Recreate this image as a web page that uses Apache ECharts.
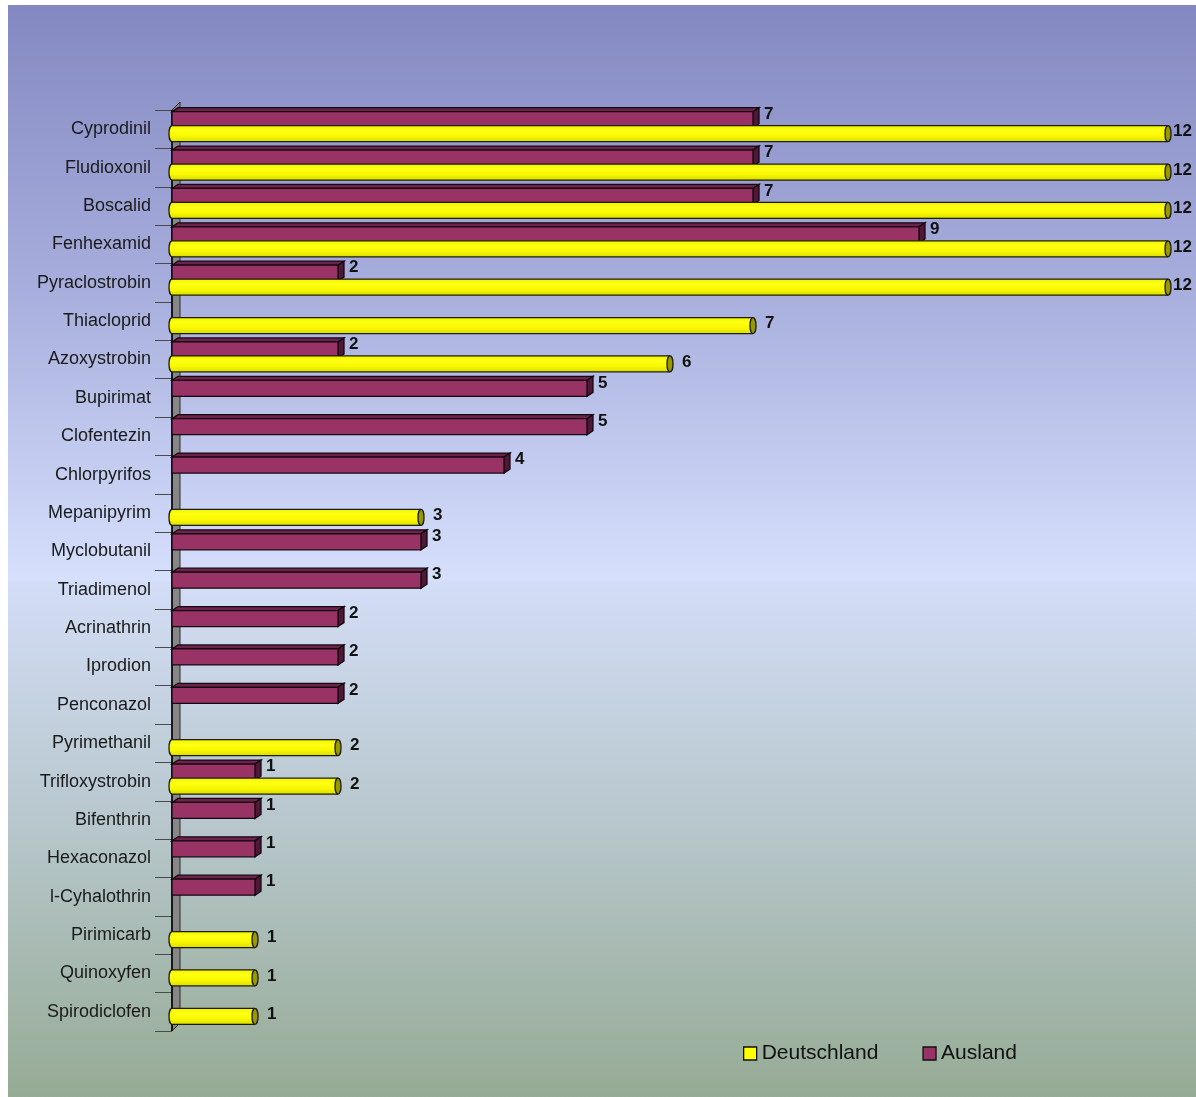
<!DOCTYPE html>
<html lang="de" style="height: 100%">
<head>
	<meta charset="utf-8">
	<title>Wirkstoffe Deutschland / Ausland</title>
</head>
<body style='height: 100%; margin: 0; background: #ffffff'>
<div id='container' style='width: 1196px; height: 1097px'></div>
<script type='text/javascript' src='https://cdn.jsdelivr.net/npm/echarts@6/dist/echarts.min.js'></script>
<script type="text/javascript">

	// Daten
	var categories = ['Cyprodinil', 'Fludioxonil', 'Boscalid', 'Fenhexamid', 'Pyraclostrobin',
		'Thiacloprid', 'Azoxystrobin', 'Bupirimat', 'Clofentezin', 'Chlorpyrifos',
		'Mepanipyrim', 'Myclobutanil', 'Triadimenol', 'Acrinathrin', 'Iprodion',
		'Penconazol', 'Pyrimethanil', 'Trifloxystrobin', 'Bifenthrin', 'Hexaconazol',
		'l-Cyhalothrin', 'Pirimicarb', 'Quinoxyfen', 'Spirodiclofen'];
	var deutschland = [12, 12, 12, 12, 12, 7, 6, null, null, null, 3, null, null, null, null, null, 2, 2, null, null, null, 1, 1, 1];
	var ausland = [7, 7, 7, 9, 2, null, 2, 5, 5, 4, null, 3, 3, 2, 2, 2, null, 1, 1, 1, 1, null, null, null];

	var labelFont = 'bold 17px "Liberation Sans", Arial, sans-serif';

	function toData(arr) {
		var out = [];
		for (var i = 0; i < arr.length; i++) {
			if (arr[i] != null) out.push([arr[i], i]);
		}
		return out;
	}

	// Quader fuer Ausland
	function renderBox(params, api) {
		var v = api.value(0);
		var ci = api.value(1);
		var p0 = api.coord([0, ci]);
		var p1 = api.coord([v, ci]);
		var yc = p0[1];
		var top = yc - 17.5, bot = yc - 1.5;
		var x0 = p0[0], x1 = p1[0];
		var dx = 6, dy = 4;
		var line = '#140810';
		return {
			type: 'group',
			children: [
				{type: 'polygon', shape: {points: [[x0, top], [x0 + dx, top - dy], [x1 + dx, top - dy], [x1, top]]},
					style: {fill: '#6e234a', stroke: line, lineWidth: 1.3}},
				{type: 'polygon', shape: {points: [[x1, top], [x1 + dx, top - dy], [x1 + dx, bot - dy], [x1, bot]]},
					style: {fill: '#4f1836', stroke: line, lineWidth: 1.3}},
				{type: 'rect', shape: {x: x0, y: top, width: x1 - x0, height: bot - top},
					style: {fill: '#993366', stroke: line, lineWidth: 1.3}},
				{type: 'text', x: x1 + 11, y: yc - 15,
					style: {text: String(v), font: labelFont, fill: '#111111', verticalAlign: 'middle'}}
			]
		};
	}

	// Zylinder fuer Deutschland
	function renderCyl(params, api) {
		var v = api.value(0);
		var ci = api.value(1);
		var p0 = api.coord([0, ci]);
		var p1 = api.coord([v, ci]);
		var yc = p0[1];
		var top = yc - 3.5, bot = yc + 12.5;
		var x0 = p0[0], x1 = p1[0];
		var ry = (bot - top) / 2, rx = 3;
		var line = '#1e1e08';
		var cs = params.coordSys;
		var lx = Math.min(x1 + 12, cs.x + cs.width + 5);
		var grad = {type: 'linear', x: 0, y: 0, x2: 0, y2: 1, colorStops: [
			{offset: 0, color: '#f2f200'}, {offset: 0.3, color: '#ffff14'},
			{offset: 0.65, color: '#f8f800'}, {offset: 1, color: '#dcdc00'}]};
		return {
			type: 'group',
			children: [
				{type: 'ellipse', shape: {cx: x0, cy: top + ry, rx: rx, ry: ry},
					style: {fill: grad, stroke: line, lineWidth: 1.3}},
				{type: 'rect', shape: {x: x0, y: top, width: x1 - x0, height: bot - top},
					style: {fill: grad}},
				{type: 'line', shape: {x1: x0, y1: top, x2: x1, y2: top}, style: {stroke: line, lineWidth: 1.3}},
				{type: 'line', shape: {x1: x0, y1: bot, x2: x1, y2: bot}, style: {stroke: line, lineWidth: 1.3}},
				{type: 'ellipse', shape: {cx: x1, cy: top + ry, rx: rx, ry: ry},
					style: {fill: '#999900', stroke: line, lineWidth: 1.3}},
				{type: 'text', x: lx, y: yc + 2.5,
					style: {text: String(v), font: labelFont, fill: '#111111', verticalAlign: 'middle'}}
			]
		};
	}

	// graue Wand hinter der Kategorienachse
	function renderWall(params, api) {
		var cs = params.coordSys;
		var d = 8;
		return {
			type: 'group',
			children: [
				{type: 'polygon', shape: {points: [[cs.x, cs.y], [cs.x + d, cs.y - d], [cs.x + d, cs.y + cs.height - d], [cs.x, cs.y + cs.height]]},
					style: {fill: '#878787', stroke: '#2a2a2a', lineWidth: 1}},
				{type: 'line', shape: {x1: cs.x, y1: cs.y, x2: cs.x, y2: cs.y + cs.height},
					style: {stroke: '#000000', lineWidth: 1.5}}
			]
		};
	}

	var dom = document.getElementById('container');
	var myChart = echarts.init(dom, null, {renderer: 'canvas'});

	var option = {
		animation: false,
		backgroundColor: '#ffffff',
		graphic: [{
			type: 'rect', z: -10, silent: true,
			shape: {x: 8, y: 5, width: 1188, height: 1092},
			style: {fill: {type: 'linear', x: 0, y: 0, x2: 0, y2: 1, colorStops: [
				{offset: 0, color: '#8488c1'},
				{offset: 0.27, color: '#a9b0de'},
				{offset: 0.526, color: '#d6e0fc'},
				{offset: 0.53, color: '#d3ddf6'},
				{offset: 0.75, color: '#b7c7cc'},
				{offset: 1, color: '#96ab95'}
			]}}
		}],
		grid: {left: 172, right: 28, top: 110, bottom: 66},
		xAxis: {type: 'value', min: 0, max: 12, show: false},
		yAxis: {
			type: 'category',
			inverse: true,
			data: categories,
			axisLine: {show: false},
			axisTick: {show: true, length: 17, lineStyle: {color: '#4a4a4a', width: 1}},
			axisLabel: {fontSize: 18, color: '#1a1a1a', margin: 21, fontFamily: '"Liberation Sans", Arial, sans-serif'}
		},
		legend: {
			left: 738, top: 1038,
			itemWidth: 13, itemHeight: 13, itemGap: 44,
			textStyle: {fontSize: 21, color: '#111111', fontFamily: '"Liberation Sans", Arial, sans-serif'},
			data: [
				{name: 'Deutschland', icon: 'rect', itemStyle: {color: '#ffff00', borderColor: '#111', borderWidth: 1.3}},
				{name: 'Ausland', icon: 'rect', itemStyle: {color: '#993366', borderColor: '#111', borderWidth: 1.3}}
			]
		},
		series: [
			{type: 'custom', name: 'wall', z: 1, silent: true, renderItem: renderWall, data: [[0, 0]], encode: {x: 0, y: 1}},
			{type: 'custom', name: 'Ausland', z: 3, renderItem: renderBox, data: toData(ausland),
				encode: {x: 0, y: 1}, itemStyle: {color: '#993366'}},
			{type: 'custom', name: 'Deutschland', z: 4, renderItem: renderCyl, data: toData(deutschland),
				encode: {x: 0, y: 1}, itemStyle: {color: '#ffff00'}}
		]
	};

	myChart.setOption(option);
	window.addEventListener('resize', myChart.resize);

</script>
</body>
</html>
